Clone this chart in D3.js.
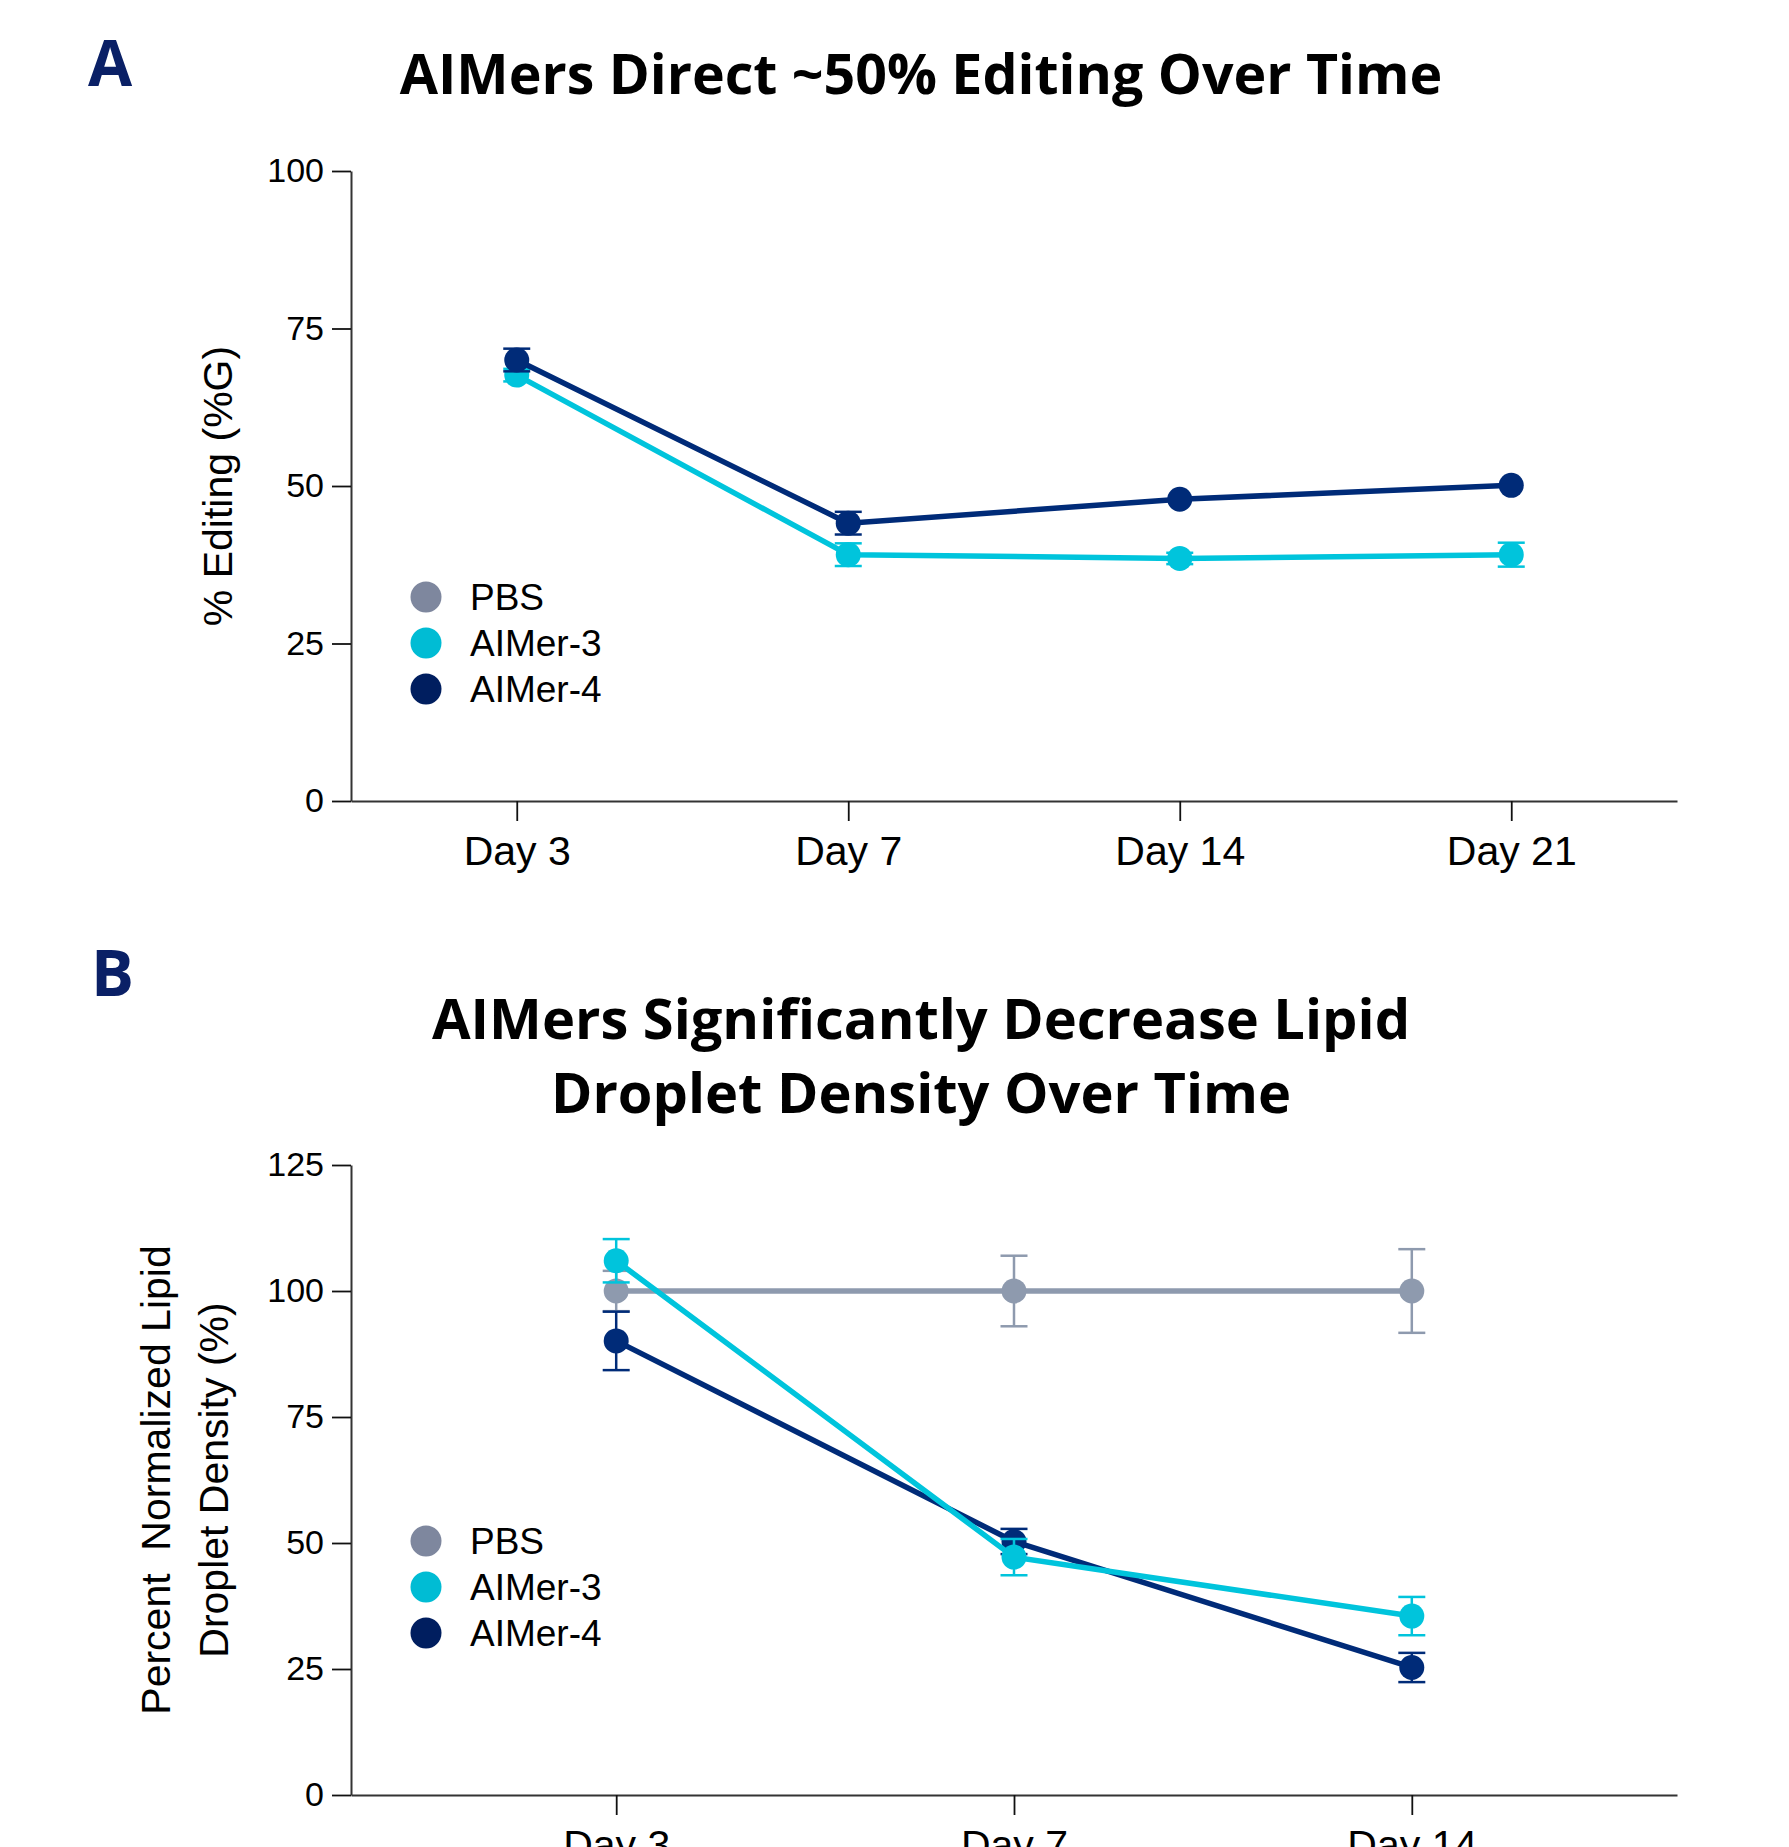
<!DOCTYPE html>
<html>
<head>
<meta charset="utf-8">
<script src="https://cdn.jsdelivr.net/npm/d3@7"></script>
<style>
  body { margin: 0; background: #fff; }
  svg { display: block; }
</style>
</head>
<body>
<div id="chart"></div>
<script>
// Panel A data
const daysA = ["Day 3", "Day 7", "Day 14", "Day 21"];
const aimer3A = [67.6, 39.1, 38.5, 39.1];
const aimer3AErr = [1.0, 1.8, 0.9, 1.9];
const aimer4A = [70.0, 44.1, 47.9, 50.1];
const aimer4AErr = [1.8, 1.8, 0, 0];
const ticksA = [0, 25, 50, 75, 100];

// Panel B data
const daysB = ["Day 3", "Day 7", "Day 14"];
const pbsB = [100, 100, 100];
const pbsBErr = [4.0, 7.0, 8.3];
const aimer3B = [106.0, 47.2, 35.5];
const aimer3BErr = [4.3, 3.6, 3.8];
const aimer4B = [90.1, 50.3, 25.3];
const aimer4BErr = [5.8, 2.5, 2.9];
const ticksB = [0, 25, 50, 75, 100, 125];

const legendNames = ["PBS", "AIMer-3", "AIMer-4"];

const colors = { pbs: "#8e9aae", a3: "#00c4dc", a4: "#002b78" };
const legendColors = ["#7e879e", "#00bcd4", "#001e5f"];

const width = 1789, height = 1847;
const svg = d3.select("#chart").append("svg")
  .attr("width", width)
  .attr("height", height);

const tickFont = "'Liberation Sans', Arial, sans-serif";
const titleFont = "'Open Sans', 'Noto Sans', sans-serif";

function drawPanel(opts) {
  const g = svg.append("g");

  const x = d3.scalePoint()
    .domain(opts.days)
    .range([351, 1677])
    .padding(opts.padding);

  const y = d3.scaleLinear()
    .domain([0, opts.ymax])
    .range([opts.y0, opts.ytop]);

  // y axis
  const yAxis = g.append("g")
    .attr("transform", "translate(351,0)")
    .call(d3.axisLeft(y).tickValues(opts.ticks).tickSize(19).tickSizeOuter(0).tickPadding(8));
  // x axis
  const xAxis = g.append("g")
    .attr("transform", `translate(0,${opts.y0})`)
    .call(d3.axisBottom(x).tickSize(20).tickSizeOuter(0).tickPadding(15));

  [yAxis, xAxis].forEach(ax => {
    ax.select(".domain").attr("stroke", "#333").attr("stroke-width", 2);
    ax.selectAll(".tick line").attr("stroke", "#111").attr("stroke-width", 1.8);
  });
  yAxis.selectAll("text")
    .attr("font-family", tickFont).attr("font-size", 34).attr("fill", "#000");
  xAxis.selectAll("text")
    .attr("font-family", tickFont).attr("font-size", 41).attr("fill", "#000");

  // y axis label
  const yl = g.append("text")
    .attr("transform", `translate(0,${(opts.y0 + opts.ytop) / 2}) rotate(-90)`)
    .attr("text-anchor", "middle")
    .attr("font-family", tickFont)
    .attr("font-size", 41)
    .attr("fill", "#000");
  opts.ylabel.forEach((line, i) => {
    yl.append("tspan")
      .attr("x", 0)
      .attr("y", opts.ylabelX[i])
      .attr("dy", "0.35em")
      .style("white-space", "pre")
      .text(line);
  });

  // series
  const line = d3.line()
    .x((d, i) => x(opts.days[i]))
    .y(d => y(d));

  opts.series.forEach(s => {
    const sg = g.append("g");
    sg.append("path")
      .datum(s.values)
      .attr("fill", "none")
      .attr("stroke", s.color)
      .attr("stroke-width", 5.5)
      .attr("stroke-linejoin", "round")
      .attr("d", line);

    const pts = s.values.map((v, i) => ({ day: opts.days[i], v: v, e: s.err[i] }));

    const eb = sg.selectAll(".err")
      .data(pts.filter(d => d.e > 0))
      .enter().append("g")
      .attr("stroke", s.color)
      .attr("stroke-width", 2.5);
    eb.append("line")
      .attr("x1", d => x(d.day)).attr("x2", d => x(d.day))
      .attr("y1", d => y(d.v - d.e)).attr("y2", d => y(d.v + d.e));
    eb.append("line")
      .attr("x1", d => x(d.day) - 13.5).attr("x2", d => x(d.day) + 13.5)
      .attr("y1", d => y(d.v + d.e)).attr("y2", d => y(d.v + d.e));
    eb.append("line")
      .attr("x1", d => x(d.day) - 13.5).attr("x2", d => x(d.day) + 13.5)
      .attr("y1", d => y(d.v - d.e)).attr("y2", d => y(d.v - d.e));

    sg.selectAll("circle")
      .data(pts)
      .enter().append("circle")
      .attr("cx", d => x(d.day))
      .attr("cy", d => y(d.v))
      .attr("r", 12.5)
      .attr("fill", s.color);
  });

  // legend
  const lg = g.append("g");
  legendNames.forEach((name, i) => {
    const ly = opts.legendY + i * 46;
    lg.append("circle")
      .attr("cx", 426).attr("cy", ly).attr("r", 15.5)
      .attr("fill", legendColors[i]);
    lg.append("text")
      .attr("x", 470).attr("y", ly).attr("dy", "0.36em")
      .attr("font-family", tickFont).attr("font-size", 37).attr("fill", "#000")
      .text(name);
  });

  // title
  const tt = g.append("text")
    .attr("text-anchor", "middle")
    .attr("font-family", titleFont)
    .attr("font-weight", 700)
    .attr("font-size", opts.titleSize)
    .attr("fill", "#000");
  opts.title.forEach((t, i) => {
    tt.append("tspan").attr("x", 921).attr("y", opts.titleY[i]).text(t);
  });

  // panel letter
  g.append("text")
    .attr("x", opts.letterX).attr("y", opts.letterY)
    .attr("font-family", titleFont)
    .attr("font-weight", 700)
    .attr("font-size", 64)
    .attr("fill", "#0a2066")
    .text(opts.letter);
}

drawPanel({
  days: daysA, padding: 0.5, ymax: 100, ticks: ticksA,
  y0: 801, ytop: 171,
  ylabel: ["% Editing (%G)"], ylabelX: [218],
  series: [
    { values: aimer3A, err: aimer3AErr, color: colors.a3 },
    { values: aimer4A, err: aimer4AErr, color: colors.a4 }
  ],
  legendY: 597,
  title: ["AIMers Direct ~50% Editing Over Time"], titleY: [94], titleSize: 55.5,
  letter: "A", letterX: 88, letterY: 86
});

drawPanel({
  days: daysB, padding: 2 / 3, ymax: 125, ticks: ticksB,
  y0: 1795, ytop: 1165,
  ylabel: ["Percent  Normalized Lipid", "Droplet Density (%)"], ylabelX: [156, 214],
  series: [
    { values: pbsB, err: pbsBErr, color: colors.pbs },
    { values: aimer4B, err: aimer4BErr, color: colors.a4 },
    { values: aimer3B, err: aimer3BErr, color: colors.a3 }
  ],
  legendY: 1541,
  title: ["AIMers Significantly Decrease Lipid", "Droplet Density Over Time"], titleY: [1039, 1113], titleSize: 56,
  letter: "B", letterX: 91, letterY: 996
});
</script>
</body>
</html>
